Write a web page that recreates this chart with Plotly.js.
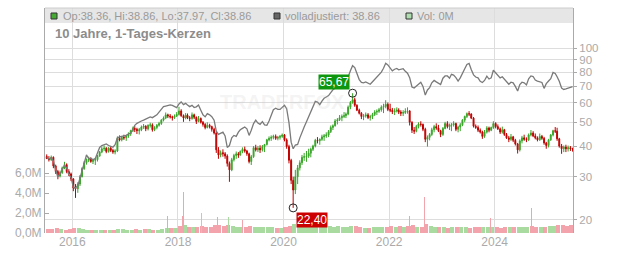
<!DOCTYPE html>
<html><head><meta charset="utf-8">
<script src="https://cdn.plot.ly/plotly-3.0.1.min.js"></script>
<style>html,body{margin:0;padding:0;background:#fff;}#chart{width:632px;height:253px;}</style>
</head><body><div id="chart"></div>
<script>
// ---- data (half-month candles, monthly volume) ----
const halfMonths = [
 "2015-07-08","2015-07-23","2015-08-08","2015-08-23","2015-09-08","2015-09-23","2015-10-08","2015-10-23","2015-11-08","2015-11-23","2015-12-08","2015-12-23",
 "2016-01-08","2016-01-23","2016-02-08","2016-02-23","2016-03-08","2016-03-23","2016-04-08","2016-04-23","2016-05-08","2016-05-23","2016-06-08","2016-06-23","2016-07-08","2016-07-23","2016-08-08","2016-08-23","2016-09-08","2016-09-23","2016-10-08","2016-10-23","2016-11-08","2016-11-23","2016-12-08","2016-12-23",
 "2017-01-08","2017-01-23","2017-02-08","2017-02-23","2017-03-08","2017-03-23","2017-04-08","2017-04-23","2017-05-08","2017-05-23","2017-06-08","2017-06-23","2017-07-08","2017-07-23","2017-08-08","2017-08-23","2017-09-08","2017-09-23","2017-10-08","2017-10-23","2017-11-08","2017-11-23","2017-12-08","2017-12-23",
 "2018-01-08","2018-01-23","2018-02-08","2018-02-23","2018-03-08","2018-03-23","2018-04-08","2018-04-23","2018-05-08","2018-05-23","2018-06-08","2018-06-23","2018-07-08","2018-07-23","2018-08-08","2018-08-23","2018-09-08","2018-09-23","2018-10-08","2018-10-23","2018-11-08","2018-11-23","2018-12-08","2018-12-23",
 "2019-01-08","2019-01-23","2019-02-08","2019-02-23","2019-03-08","2019-03-23","2019-04-08","2019-04-23","2019-05-08","2019-05-23","2019-06-08","2019-06-23","2019-07-08","2019-07-23","2019-08-08","2019-08-23","2019-09-08","2019-09-23","2019-10-08","2019-10-23","2019-11-08","2019-11-23","2019-12-08","2019-12-23",
 "2020-01-08","2020-01-23","2020-02-08","2020-02-23","2020-03-08","2020-03-23","2020-04-08","2020-04-23","2020-05-08","2020-05-23","2020-06-08","2020-06-23","2020-07-08","2020-07-23","2020-08-08","2020-08-23","2020-09-08","2020-09-23","2020-10-08","2020-10-23","2020-11-08","2020-11-23","2020-12-08","2020-12-23",
 "2021-01-08","2021-01-23","2021-02-08","2021-02-23","2021-03-08","2021-03-23","2021-04-08","2021-04-23","2021-05-08","2021-05-23","2021-06-08","2021-06-23","2021-07-08","2021-07-23","2021-08-08","2021-08-23","2021-09-08","2021-09-23","2021-10-08","2021-10-23","2021-11-08","2021-11-23","2021-12-08","2021-12-23",
 "2022-01-08","2022-01-23","2022-02-08","2022-02-23","2022-03-08","2022-03-23","2022-04-08","2022-04-23","2022-05-08","2022-05-23","2022-06-08","2022-06-23","2022-07-08","2022-07-23","2022-08-08","2022-08-23","2022-09-08","2022-09-23","2022-10-08","2022-10-23","2022-11-08","2022-11-23","2022-12-08","2022-12-23",
 "2023-01-08","2023-01-23","2023-02-08","2023-02-23","2023-03-08","2023-03-23","2023-04-08","2023-04-23","2023-05-08","2023-05-23","2023-06-08","2023-06-23","2023-07-08","2023-07-23","2023-08-08","2023-08-23","2023-09-08","2023-09-23","2023-10-08","2023-10-23","2023-11-08","2023-11-23","2023-12-08","2023-12-23",
 "2024-01-08","2024-01-23","2024-02-08","2024-02-23","2024-03-08","2024-03-23","2024-04-08","2024-04-23","2024-05-08","2024-05-23","2024-06-08","2024-06-23","2024-07-08","2024-07-23","2024-08-08","2024-08-23","2024-09-08","2024-09-23","2024-10-08","2024-10-23","2024-11-08","2024-11-23","2024-12-08","2024-12-23",
 "2025-01-08","2025-01-23","2025-02-08","2025-02-23","2025-03-08","2025-03-23","2025-04-08","2025-04-23","2025-05-08","2025-05-23","2025-06-08","2025-06-23"
];
const openP = [
 36.3,35.6,35.2,36.0,33.2,31.5,30.2,31.2,32.6,33.6,31.5,30.8,
 29.4,27.0,26.8,28.0,30.0,32.4,34.2,35.0,35.4,34.6,35.0,35.2,36.4,37.8,39.0,39.2,38.0,39.2,38.4,37.8,38.2,43.0,42.4,43.4,
 43.2,44.0,44.8,46.2,47.2,46.8,46.2,46.6,47.8,48.2,47.0,48.6,48.8,46.6,47.6,48.6,49.4,51.0,52.0,53.6,53.0,52.6,52.2,53.0,
 53.8,55.6,53.2,52.0,53.4,52.2,51.8,53.6,52.4,50.4,51.8,50.0,49.0,47.6,48.6,48.0,46.8,45.2,38.6,36.8,37.6,37.2,36.4,34.0,
 32.0,35.2,36.6,37.2,36.8,38.0,38.8,38.2,37.2,34.6,36.2,39.4,38.6,39.2,38.6,39.8,40.6,42.4,43.0,43.4,43.8,43.0,43.4,43.8,
 44.4,42.4,39.8,35.0,29.0,26.5,30.0,32.6,34.2,36.0,36.2,36.4,37.4,38.8,40.0,42.2,42.0,42.6,43.6,44.0,44.4,45.8,47.6,48.4,
 50.6,51.2,52.2,52.8,53.2,54.0,57.6,60.2,61.8,58.6,56.0,54.4,52.8,53.0,53.6,52.2,52.8,53.8,55.0,55.4,56.2,57.6,58.0,59.2,
 56.4,56.0,55.2,55.6,56.0,55.0,54.4,54.8,55.4,55.6,50.0,46.4,46.0,48.0,49.2,49.0,46.8,42.6,43.4,44.6,46.6,48.0,47.4,46.2,
 44.6,47.2,49.4,48.0,48.6,48.8,49.4,46.8,47.8,48.8,51.0,52.8,54.2,54.0,52.0,48.2,47.6,46.4,45.6,43.8,45.6,47.4,46.4,47.6,
 49.4,48.0,47.0,45.6,46.6,44.6,43.2,42.6,43.6,42.2,40.8,38.6,42.0,43.2,42.6,42.4,44.4,45.2,44.0,43.2,42.4,43.8,43.0,41.2,
 40.2,42.4,44.4,46.2,46.0,42.8,40.0,39.0,39.6,39.0,39.4,39.0
];
const highP = [
 37.0,36.4,36.6,36.3,33.6,32.0,31.8,33.0,34.5,34.0,32.2,31.2,
 29.6,28.0,28.5,30.5,32.8,34.8,35.6,36.2,36.0,35.4,35.8,36.8,38.2,39.8,40.2,39.6,39.6,40.0,39.0,38.8,43.8,44.2,44.0,44.5,
 44.5,45.5,46.6,48.0,48.3,47.5,47.4,48.5,49.2,48.6,49.0,49.8,49.5,48.2,49.2,50.2,51.5,52.8,54.8,54.2,54.0,53.2,53.8,55.0,
 57.8,56.5,53.8,54.5,54.3,53.0,54.8,54.2,52.8,53.0,52.3,50.6,49.6,50.0,49.3,48.4,47.5,45.6,39.6,38.4,38.8,37.8,37.0,34.6,
 35.8,37.2,38.0,37.8,38.4,39.5,39.8,38.6,37.6,36.8,40.0,40.5,40.0,40.3,40.4,40.8,42.8,43.8,44.2,44.5,44.6,44.0,44.4,45.0,
 44.8,43.0,40.5,35.5,30.0,32.0,33.5,35.0,36.8,37.5,38.2,39.0,39.4,40.5,42.8,43.5,43.0,44.5,44.8,45.5,46.5,48.5,49.0,51.5,
 52.0,53.5,53.8,55.0,54.8,58.5,61.0,65.67,63.0,59.2,56.8,55.0,54.0,54.8,54.5,53.6,54.6,56.0,56.4,57.2,58.6,59.5,61.5,60.2,
 59.5,57.2,57.0,57.5,57.0,56.0,56.0,57.0,57.5,56.0,50.5,47.8,48.8,50.0,50.5,49.4,47.5,44.2,45.2,47.5,48.8,49.5,48.8,46.6,
 47.8,50.2,50.5,49.4,49.6,50.5,49.8,48.4,49.6,51.5,53.2,54.8,55.5,54.4,52.5,49.0,48.5,47.2,46.2,46.5,48.2,48.0,48.0,50.5,
 50.0,49.0,47.6,48.0,47.0,45.2,44.0,44.8,44.0,42.8,41.2,42.6,44.0,44.5,43.4,45.0,46.5,46.0,45.0,43.8,45.0,44.4,43.6,41.6,
 42.8,44.8,46.6,47.8,47.5,43.2,40.8,40.2,40.5,40.2,40.0,39.4
];
const lowP = [
 35.4,34.6,34.8,32.5,30.8,29.3,29.8,30.8,32.2,31.0,30.2,28.8,
 26.2,24.6,25.8,27.5,29.8,32.0,33.6,34.4,34.2,33.8,33.5,34.6,36.2,37.4,38.2,37.4,37.6,37.8,37.2,37.0,37.8,41.8,41.8,42.4,
 42.0,43.2,44.0,45.6,45.6,44.8,44.6,46.0,47.0,46.0,46.3,47.6,45.8,46.0,46.8,48.0,48.8,50.4,51.5,52.0,51.8,50.8,51.6,52.5,
 53.2,52.6,50.2,51.4,51.5,50.5,51.2,51.5,49.2,50.0,49.4,48.0,46.8,47.2,47.2,45.8,44.6,37.5,35.5,36.0,36.2,35.5,33.0,28.6,
 31.6,34.6,35.5,35.8,36.5,37.4,37.6,36.5,34.0,33.5,35.8,38.0,37.8,37.5,38.0,37.8,40.2,41.8,42.0,42.6,42.4,42.2,42.5,43.2,
 41.8,39.0,34.0,28.0,22.4,25.5,28.0,31.8,33.5,34.8,34.5,35.8,36.0,38.2,39.5,41.0,40.5,42.0,42.0,43.2,43.5,45.2,46.5,48.0,
 49.0,50.6,50.5,52.0,52.0,53.4,56.5,59.5,57.8,55.5,53.8,51.5,51.0,52.2,51.5,50.8,51.5,53.0,53.5,54.6,55.2,54.5,57.0,55.5,
 55.0,54.0,53.5,54.8,54.0,53.0,53.0,54.0,54.2,48.5,45.2,44.8,45.5,47.2,48.0,46.0,41.5,39.8,42.2,44.0,45.5,46.6,45.6,43.5,
 44.0,46.8,47.2,46.5,46.0,48.0,46.0,45.5,46.0,48.2,50.0,52.0,53.0,51.5,47.6,47.0,45.6,45.0,42.8,43.2,45.0,45.5,46.0,47.0,
 47.2,46.5,44.8,45.0,44.0,42.8,41.5,42.0,41.5,40.2,37.3,38.0,41.0,42.0,41.5,42.0,43.8,43.5,42.6,41.8,42.0,42.4,40.5,39.0,
 39.5,42.0,43.8,45.2,42.0,39.4,37.2,37.8,37.8,38.0,38.2,37.97
];
const closeP = [
 35.6,35.2,36.0,33.2,31.5,30.2,31.2,32.6,33.6,31.5,30.8,29.4,
 27.0,26.8,28.0,30.0,32.4,34.2,35.0,35.4,34.6,35.0,35.2,36.4,37.8,39.0,39.2,38.0,39.2,38.4,37.8,38.2,43.0,42.4,43.4,43.2,
 44.0,44.8,46.2,47.2,46.8,46.2,46.6,47.8,48.2,47.0,48.6,48.8,46.6,47.6,48.6,49.4,51.0,52.0,53.6,53.0,52.6,52.2,53.0,53.8,
 55.6,53.2,52.0,53.4,52.2,51.8,53.6,52.4,50.4,51.8,50.0,49.0,47.6,48.6,48.0,46.8,45.2,38.6,36.8,37.6,37.2,36.4,34.0,32.0,
 35.2,36.6,37.2,36.8,38.0,38.8,38.2,37.2,34.6,36.2,39.4,38.6,39.2,38.6,39.8,40.6,42.4,43.0,43.4,43.8,43.0,43.4,43.8,44.4,
 42.4,39.8,35.0,29.0,26.5,30.0,32.6,34.2,36.0,36.2,36.4,37.4,38.8,40.0,42.2,42.0,42.6,43.6,44.0,44.4,45.8,47.6,48.4,50.6,
 51.2,52.2,52.8,53.2,54.0,57.6,60.2,61.8,58.6,56.0,54.4,52.8,53.0,53.6,52.2,52.8,53.8,55.0,55.4,56.2,57.6,58.0,59.2,56.4,
 56.0,55.2,55.6,56.0,55.0,54.4,54.8,55.4,55.6,50.0,46.4,46.0,48.0,49.2,49.0,46.8,42.6,43.4,44.6,46.6,48.0,47.4,46.2,44.6,
 47.2,49.4,48.0,48.6,48.8,49.4,46.8,47.8,48.8,51.0,52.8,54.2,54.0,52.0,48.2,47.6,46.4,45.6,43.8,45.6,47.4,46.4,47.6,49.4,
 48.0,47.0,45.6,46.6,44.6,43.2,42.6,43.6,42.2,40.8,38.6,42.0,43.2,42.6,42.4,44.4,45.2,44.0,43.2,42.4,43.8,43.0,41.2,40.2,
 42.4,44.4,46.2,46.0,42.8,40.0,39.0,39.6,39.0,39.4,39.0,38.86
];
const adjusted = [
 36.0,35.4,35.8,34.8,32.0,30.0,30.8,32.0,33.4,32.6,30.6,29.8,
 27.2,27.0,27.6,29.6,31.8,33.6,36.8,35.6,35.6,35.2,35.6,37.5,39.5,40.2,40.5,40.8,40.2,39.8,39.6,40.5,43.2,43.6,43.8,44.0,
 44.2,44.8,45.2,46.8,48.6,49.5,50.2,50.6,51.0,51.6,52.2,52.6,52.2,52.8,53.6,55.0,56.8,57.9,58.2,58.6,58.8,58.6,57.8,57.4,
 59.4,60.5,59.0,59.7,58.8,57.9,58.6,57.4,57.8,58.8,56.0,53.6,52.6,54.2,53.6,52.7,51.0,46.0,44.6,45.0,45.6,44.0,39.5,40.2,
 43.2,44.2,43.8,45.6,46.6,47.2,47.8,47.0,44.2,46.4,49.4,51.0,49.6,49.0,50.3,48.8,48.6,50.6,53.8,56.2,57.0,56.4,56.4,57.6,
 58.6,56.8,49.8,41.5,39.0,40.4,40.6,43.2,45.8,47.8,50.2,52.5,55.4,58.4,60.8,60.4,59.0,61.0,62.6,63.4,64.2,66.0,67.8,68.8,
 70.0,70.9,72.6,73.6,74.0,76.5,81.0,85.0,83.5,79.5,74.6,72.6,72.4,73.0,72.0,71.4,73.1,74.8,76.0,77.6,80.0,83.0,87.0,85.6,
 83.4,81.0,82.2,82.8,81.8,82.2,82.6,80.6,79.2,76.0,69.6,68.9,70.2,71.6,72.8,70.0,64.5,67.7,69.2,72.4,74.0,73.0,71.8,71.2,
 75.6,77.2,77.2,75.6,78.4,77.8,76.0,73.6,75.8,78.6,82.6,86.0,86.8,82.0,78.0,76.4,75.8,73.4,72.6,74.0,77.0,75.0,75.8,81.4,
 79.6,77.6,75.8,76.6,75.0,72.6,71.4,72.8,72.4,70.0,67.0,71.2,72.8,72.4,71.0,75.2,77.2,76.8,74.3,73.6,73.1,72.6,68.7,71.8,
 73.6,75.2,79.8,79.0,76.6,73.4,68.9,68.0,68.4,69.0,69.6,69.8
];
const volMonths = [
 "2015-07-15","2015-08-15","2015-09-15","2015-10-15","2015-11-15","2015-12-15",
 "2016-01-15","2016-02-15","2016-03-15","2016-04-15","2016-05-15","2016-06-15","2016-07-15","2016-08-15","2016-09-15","2016-10-15","2016-11-15","2016-12-15",
 "2017-01-15","2017-02-15","2017-03-15","2017-04-15","2017-05-15","2017-06-15","2017-07-15","2017-08-15","2017-09-15","2017-10-15","2017-11-15","2017-12-15",
 "2018-01-15","2018-02-15","2018-03-15","2018-04-15","2018-05-15","2018-06-15","2018-07-15","2018-08-15","2018-09-15","2018-10-15","2018-11-15","2018-12-15",
 "2019-01-15","2019-02-15","2019-03-15","2019-04-15","2019-05-15","2019-06-15","2019-07-15","2019-08-15","2019-09-15","2019-10-15","2019-11-15","2019-12-15",
 "2020-01-15","2020-02-15","2020-03-15","2020-04-15","2020-05-15","2020-06-15","2020-07-15","2020-08-15","2020-09-15","2020-10-15","2020-11-15","2020-12-15",
 "2021-01-15","2021-02-15","2021-03-15","2021-04-15","2021-05-15","2021-06-15","2021-07-15","2021-08-15","2021-09-15","2021-10-15","2021-11-15","2021-12-15",
 "2022-01-15","2022-02-15","2022-03-15","2022-04-15","2022-05-15","2022-06-15","2022-07-15","2022-08-15","2022-09-15","2022-10-15","2022-11-15","2022-12-15",
 "2023-01-15","2023-02-15","2023-03-15","2023-04-15","2023-05-15","2023-06-15","2023-07-15","2023-08-15","2023-09-15","2023-10-15","2023-11-15","2023-12-15",
 "2024-01-15","2024-02-15","2024-03-15","2024-04-15","2024-05-15","2024-06-15","2024-07-15","2024-08-15","2024-09-15","2024-10-15","2024-11-15","2024-12-15",
 "2025-01-15","2025-02-15","2025-03-15","2025-04-15","2025-05-15","2025-06-15"
];
const volumeM = [
 0.45,0.4,0.5,0.4,0.35,0.4,
 0.55,0.5,0.45,0.35,0.3,0.35,0.3,0.3,0.35,0.3,0.45,0.4,
 0.35,0.35,0.4,0.35,0.4,0.4,0.35,0.35,0.45,0.5,0.55,0.5,
 0.7,0.8,0.65,0.6,0.6,0.75,0.6,0.65,0.8,0.85,0.7,0.8,
 0.7,0.6,0.65,0.6,0.7,0.65,0.6,0.6,0.65,0.6,0.55,0.55,
 0.6,0.75,0.95,0.8,0.7,0.65,0.6,0.6,0.65,0.7,0.75,0.6,
 0.7,0.6,0.65,0.75,0.7,0.6,0.55,0.55,0.6,0.6,0.65,0.6,
 0.7,0.65,0.75,0.6,0.7,0.85,0.65,0.6,0.9,0.75,0.65,0.6,
 0.6,0.55,0.65,0.6,0.6,0.6,0.55,0.6,0.6,0.65,0.6,0.6,
 0.6,0.55,0.6,0.6,0.6,0.65,0.6,0.65,0.7,0.6,0.6,0.65,
 0.7,0.75,0.8,0.85,0.75,0.8
];
const spikeDates = ["2017-10-22","2018-01-29","2018-02-10","2018-06-14","2018-10-03","2018-12-18","2019-03-25","2022-05-24","2022-09-05","2023-12-06","2024-09-09"];
const spikeVolM  = [1.7,1.7,4.1,2.0,1.6,1.6,1.3,1.7,3.6,1.5,2.5];
const spikeUp    = [false,false,false,true,false,true,false,false,false,false,false];

const priceTicks = [20,30,40,50,60,70,80,90,100];
const volTicks = [0,2,4,6];
const volTickText = ["0,0M","2,0M","4,0M","6,0M"];
const yearTicks = ["2016-01-01","2018-01-01","2020-01-01","2022-01-01","2024-01-01"];
const yearLabels = ["2016","2018","2020","2022","2024"];
const lastBar = {op:"38.36", hi:"38.86", lo:"37.97", cl:"38.86", adj:"38.86", vol:"0M"};

// ---- colours / fonts ----
const UP = '#3aa52a', DOWN = '#c00000';
const VUP = '#a9dba0', VDOWN = '#f2a3ab';
const FONT = 'Liberation Sans, Arial, sans-serif';
const TICKC = '#aaaaaa';

const L = 45, R = 573, T = 8, B = 233;
const px = x => (x - L) / (R - L);
const py = y => (B - y) / (B - T);

// monthly volume colour: month close (2nd half) vs month open (1st half)
const volColors = volumeM.map((v, i) => closeP[2*i+1] >= openP[2*i] ? VUP : VDOWN);
let iMax = 0, iMin = 0;
highP.forEach((h, i) => { if (h > highP[iMax]) iMax = i; });
lowP.forEach((l, i) => { if (l < lowP[iMin]) iMin = i; });
const fmt = v => v.toFixed(2).replace('.', ',');

const traces = [
  {type:'bar', x:volMonths, y:volumeM, marker:{color:volColors, line:{width:0}}, yaxis:'y', hoverinfo:'skip'},
  {type:'bar', x:spikeDates, y:spikeVolM, width:6.0e8, marker:{color:spikeUp.map(u => u ? VUP : VDOWN), line:{width:0}}, yaxis:'y', hoverinfo:'skip'},
  {type:'scatter', mode:'lines', x:halfMonths, y:adjusted, yaxis:'y2', line:{color:'#7a7a7a', width:1.3}, hoverinfo:'skip'},
  {type:'candlestick', x:halfMonths, open:openP, high:highP, low:lowP, close:closeP, yaxis:'y2',
   increasing:{line:{color:UP, width:1}, fillcolor:UP},
   decreasing:{line:{color:DOWN, width:1}, fillcolor:DOWN},
   whiskerwidth:0, hoverinfo:'skip'},
  {type:'scatter', mode:'markers', x:[halfMonths[iMax], halfMonths[iMin]], y:[highP[iMax], lowP[iMin]], yaxis:'y2',
   marker:{symbol:'circle-open', size:8, color:'#222', line:{width:1}}, hoverinfo:'skip'}
];

const annotations = [
  {xref:'paper', yref:'paper', x:px(53), y:py(33), xanchor:'left', yanchor:'middle', showarrow:false,
   text:'<b>10 Jahre, 1-Tages-Kerzen</b>', font:{family:FONT, size:13, color:'#8c8c8c'}},
  {xref:'paper', yref:'paper', x:px(61), y:py(16), xanchor:'left', yanchor:'middle', showarrow:false,
   text:`Op:${lastBar.op}, Hi:${lastBar.hi}, Lo:${lastBar.lo}, Cl:${lastBar.cl}`, font:{family:FONT, size:11, color:'#9a9a9a'}},
  {xref:'paper', yref:'paper', x:px(283), y:py(16), xanchor:'left', yanchor:'middle', showarrow:false,
   text:`volladjustiert: ${lastBar.adj}`, font:{family:FONT, size:11, color:'#9a9a9a'}},
  {xref:'paper', yref:'paper', x:px(415), y:py(16), xanchor:'left', yanchor:'middle', showarrow:false,
   text:`Vol: ${lastBar.vol}`, font:{family:FONT, size:11, color:'#9a9a9a'}},
  {xref:'paper', yref:'paper', x:px(282), y:py(102), xanchor:'center', yanchor:'middle', showarrow:false,
   text:'<b>TRADERFOX</b>', font:{family:FONT, size:20, color:'rgba(190,190,190,0.18)'}},
  {xref:'x', yref:'y2', x:halfMonths[iMax], y:Math.log10(highP[iMax]), xanchor:'right', yanchor:'bottom',
   xshift:-3, yshift:3, showarrow:false, text:fmt(highP[iMax]), bgcolor:'#0f960f', borderpad:0,
   font:{family:FONT, size:12, color:'#ffffff'}},
  {xref:'x', yref:'y2', x:halfMonths[iMin], y:Math.log10(lowP[iMin]), xanchor:'left', yanchor:'top',
   xshift:3, yshift:-4, showarrow:false, text:fmt(lowP[iMin]), bgcolor:'#cc0000', borderpad:0,
   font:{family:FONT, size:12, color:'#ffffff'}}
];

const shapes = [
  {type:'rect', xref:'paper', yref:'paper', x0:0, x1:1, y0:py(23), y1:1, fillcolor:'#e6e6e6', line:{width:0}, layer:'below'},
  {type:'line', xref:'paper', yref:'paper', x0:0, x1:1, y0:1, y1:1, line:{color:'#cccccc', width:1}},
  {type:'rect', xref:'paper', yref:'paper', x0:px(51), x1:px(57), y0:py(19), y1:py(13), fillcolor:'#44aa33', line:{color:'#333', width:1}},
  {type:'rect', xref:'paper', yref:'paper', x0:px(274), x1:px(280), y0:py(19), y1:py(13), fillcolor:'#666666', line:{color:'#333', width:1}},
  {type:'rect', xref:'paper', yref:'paper', x0:px(406), x1:px(412), y0:py(19), y1:py(13), fillcolor:'#b0ddb0', line:{color:'#333', width:1}}
];

const layout = {
  width:632, height:253,
  margin:{l:L, r:632-R, t:T, b:253-B, pad:0},
  paper_bgcolor:'#ffffff', plot_bgcolor:'#ffffff',
  showlegend:false, barmode:'overlay', bargap:0,
  font:{family:FONT, size:12, color:TICKC},
  xaxis:{type:'date', range:['2015-06-26','2025-06-26'], tickvals:yearTicks, ticktext:yearLabels,
    showgrid:true, gridcolor:'#dddddd', gridwidth:1, showline:false, zeroline:false, ticks:'',
    tickfont:{family:FONT, size:12, color:TICKC}, rangeslider:{visible:false}, fixedrange:true},
  yaxis:{range:[0,22.5], tickvals:volTicks, ticktext:volTickText, showgrid:false, zeroline:false,
    showline:true, linecolor:'#aaaaaa', linewidth:1, ticks:'inside', ticklen:4, tickcolor:'#aaaaaa',
    tickfont:{family:FONT, size:12, color:TICKC}, fixedrange:true},
  yaxis2:{type:'log', overlaying:'y', side:'right', range:[Math.log10(17.7), Math.log10(146)],
    tickvals:priceTicks, ticktext:priceTicks.map(String), showgrid:true, gridcolor:'#dddddd', gridwidth:1,
    zeroline:false, showline:true, linecolor:'#aaaaaa', linewidth:1, ticks:'outside', ticklen:3, tickcolor:'#aaaaaa',
    tickfont:{family:FONT, size:11.5, color:TICKC}, fixedrange:true},
  annotations, shapes
};

Plotly.newPlot('chart', traces, layout, {staticPlot:true, displayModeBar:false});
</script>
</body></html>
